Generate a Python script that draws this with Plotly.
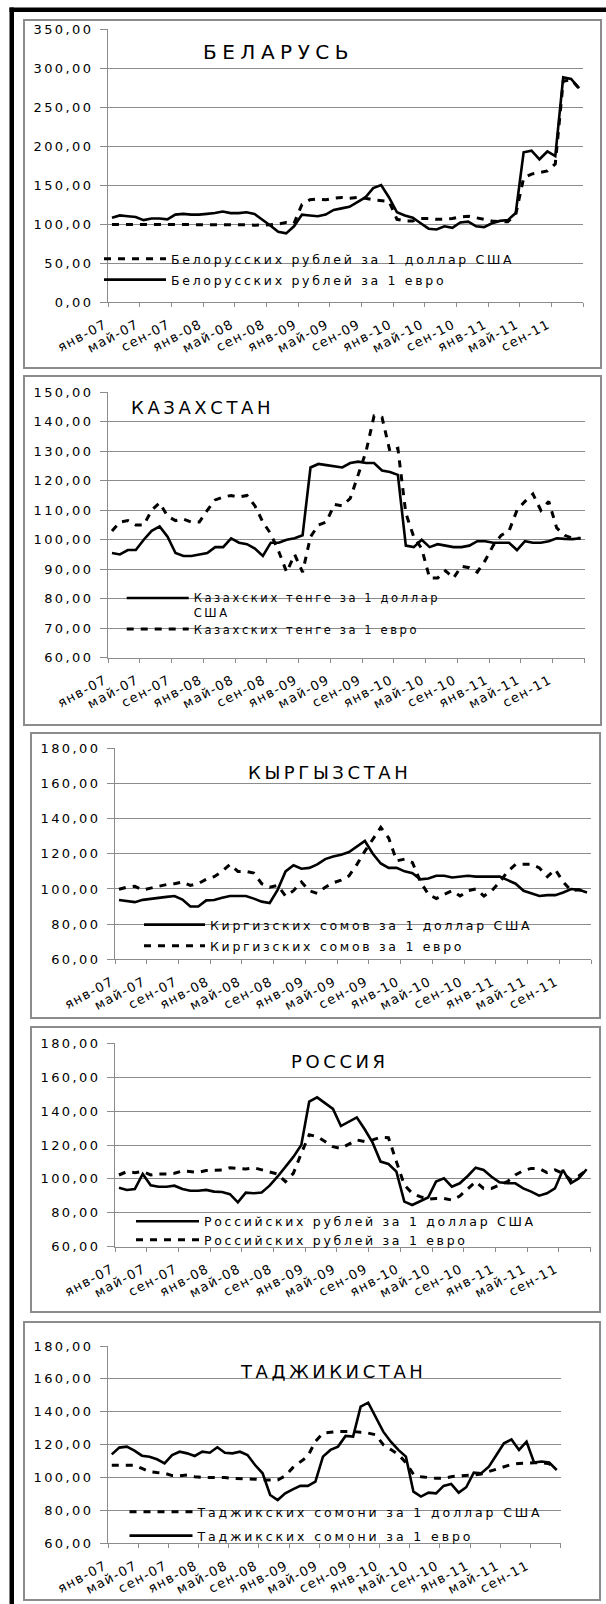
import plotly.graph_objects as go

W, H = 606, 1604

# ---------------- data ----------------
month_names = ["янв", "фев", "мар", "апр", "май", "июн", "июл", "авг", "сен", "окт", "ноя", "дек"]
years = ["07", "08", "09", "10", "11"]
categories = [f"{m}-{y}" for y in years for m in month_names]

belarus_usd = [99.5, 99.5, 99.5, 99.5, 99.5, 99.5, 99.5, 99.5, 99.5, 99.5, 99.5, 99.5,
               99.5, 99.5, 99.5, 99.5, 99, 99, 98.5, 98.5, 99, 100, 102, 101,
               125, 131, 132, 131, 133, 134, 133, 134, 133, 131, 130, 129,
               106, 104, 104, 107, 107, 106, 106, 107, 109, 110, 108, 106,
               104, 103, 103, 112, 159, 164, 166, 168, 177, 283, 285, 274]
belarus_eur = [108, 111, 110, 109, 105, 107, 107, 106, 112, 113, 112, 112,
               113, 114, 116, 114, 114, 115, 113, 106, 98, 90, 88, 97,
               112, 111, 110, 112, 118, 120, 122, 128, 134, 146, 150, 134,
               115, 111, 108, 101, 94, 93, 97, 95, 102, 103, 97, 96,
               101, 104, 105, 114, 192, 194, 183, 193, 187, 288, 286, 274]

kaz_usd = [95.5, 95, 96.5, 96.5, 100, 103, 104.5, 101, 95.5, 94.5, 94.5, 95,
           95.5, 97.5, 97.5, 100.5, 99, 98.5, 97, 94.5, 99, 99, 100, 100.5,
           101.5, 124.5, 125.7, 125.3, 125, 124.5, 126, 126.5, 126, 126, 123.5, 123,
           122, 98, 97.5, 100, 97.5, 98.5, 98, 97.5, 97.5, 98, 99.5, 99.5,
           99, 99, 99, 96.5, 99.5, 99, 99, 99.5, 100.5, 100.3, 100.2, 100.5]
kaz_eur = [103, 106, 106.5, 105, 105, 110, 112.5, 108, 106.5, 107, 106, 106,
           110, 113.5, 114.5, 115, 114.5, 115, 111.5, 106, 102, 96, 89, 95,
           89, 101, 105, 106, 112, 111.5, 114, 122, 130, 142, 141.5, 130,
           131, 109, 101, 97, 87, 87, 89.5, 87, 91, 90.5, 89, 93,
           98, 101.5, 103, 110, 113, 115.5, 110, 113, 104, 101.5, 100.5, 100.5]

kgz_usd = [93.7, 93, 92.5, 93.8, 94.5, 95, 95.5, 96, 94, 90, 90, 93.5,
           93.7, 95, 96, 96, 96, 94.5, 92.8, 92, 99.5, 110, 113.5, 111.5,
           112, 114, 117, 118.5, 119.5, 121, 124, 127.3, 120, 114.5, 112, 112,
           110, 109, 105.5, 106, 107.5, 107.5, 106.5, 107, 107.5, 107, 107, 107,
           107, 105, 103, 99, 97.5, 96, 96.5, 96.5, 98, 100, 99.5, 98]
kgz_eur = [99.8, 101, 101.5, 99.5, 100.5, 101.5, 102.5, 103, 104, 102, 103, 105.5,
           107, 110, 114, 110, 110, 109, 103, 101, 102, 96, 99, 104,
           99, 97.5, 101, 103.5, 105, 107.5, 114, 121.5, 128, 135, 129, 116,
           117, 115, 104, 97, 94.5, 97, 99, 96, 99, 100, 96, 99,
           104, 110, 114, 114, 114, 112, 107, 111, 104, 99, 99.5, 98.5]

rus_usd = [94.8, 93.5, 94, 102.9, 96.2, 95.4, 95.4, 96, 94, 93, 93, 93.5,
           92.5, 92.3, 91, 86.2, 91.9, 91.5, 92, 96, 101.3, 107, 113, 120,
           145.6, 148.1, 144.6, 141.3, 131.2, 133.8, 136.3, 129.3, 121.4, 110.2, 108.8, 104.3,
           86.6, 84.6, 86.6, 89, 98.4, 100.3, 95.4, 97.4, 101.7, 106.6, 105.3, 101.3,
           98, 97.4, 97.4, 94.4, 92.5, 90.1, 91.5, 94.4, 105.3, 97.4, 100.3, 105.7]
rus_eur = [102.3, 104.3, 103.7, 104.3, 102.3, 102.9, 102.9, 103.3, 104.7, 104.3, 103.9, 104.9,
           105, 105.3, 106.6, 106.2, 105.8, 106.6, 105.3, 104.3, 102.9, 98.4, 103.3, 115,
           126, 125, 122, 119, 118, 120.6, 123, 122, 123, 124.5, 124.3, 110.2,
           96.4, 91.5, 89.5, 88, 88.5, 88.5, 87.5, 89.9, 94.4, 98.4, 94.4, 94.4,
           96.4, 98.4, 102.3, 104.9, 106.2, 106.2, 103.7, 105.3, 103.3, 99.4, 101.7, 105.3]

tjk_usd = [107.5, 107.5, 107.5, 107.5, 105.5, 103.6, 103, 102.6, 101.2, 101, 101.5, 100.5,
           100, 100, 100, 100, 99.5, 99.5, 99.1, 99, 98.5, 98.5, 98.5, 101,
           106, 109.5, 113, 122, 127, 127.5, 128, 128, 128, 127.5, 127, 126,
           120, 117, 114, 109, 102, 100.5, 100, 99.5, 99.5, 100.5, 101, 101.2,
           101.6, 102.2, 103.6, 105, 106.6, 108, 108.6, 109, 109, 109, 108.3, 105.6]
tjk_eur = [114.1, 118.2, 118.8, 116.4, 113.3, 112.7, 111.1, 108.6, 113.7, 115.7, 114.7, 113.1,
           115.7, 115.1, 118.4, 115.1, 114.7, 115.7, 113.7, 107.6, 102.6, 89.4, 86.3, 90.4,
           92.8, 94.9, 94.9, 97.5, 112.7, 116.8, 118.8, 125.3, 124.9, 143.1, 145.5, 137,
           127.9, 121.8, 116.8, 112.7, 91.4, 88.4, 90.8, 90.4, 94.9, 96.1, 90.8, 94.1,
           103, 102.6, 106.6, 113.7, 120.8, 123.2, 116.8, 121.8, 109.1, 109.7, 109.1, 104.6]

for s in [belarus_usd, belarus_eur, kaz_usd, kaz_eur, kgz_usd, kgz_eur,
          rus_usd, rus_eur, tjk_usd, tjk_eur]:
    assert len(s) == len(categories), len(s)

y_ticks_by = [0, 50, 100, 150, 200, 250, 300, 350]
y_ticks_kz = [60, 70, 80, 90, 100, 110, 120, 130, 140, 150]
y_ticks_180 = [60, 80, 100, 120, 140, 160, 180]

# ---------------- styling helpers ----------------
FONT = "DejaVu Sans"
GRID = "#8c8c8c"
LEG_OFF = 14  # distance from legend top to first row centre (px)


def sp(text, s):
    return f"<span style='letter-spacing:{s}px'>{text}</span>"


def px_x(v):
    return v / W


def px_y(v):
    return 1 - v / H


SOLID = dict(color="black", width=2.6)
DASH = dict(color="black", width=3, dash="7px,7px")

x_idx = list(range(len(categories)))
x_tickvals = [i - 0.5 for i in range(0, len(categories) + 1, 4)]
x_ticktext = [sp(c, 1.4) for c in categories[0::4]] + [""]

panels = [
    dict(box=(24, 20, 601, 368), plot=(108, 29, 583, 302), yr=(0, 350), yt=y_ticks_by,
         title="БЕЛАРУСЬ", tpos=(278, 52), tsize=20, tsp=5.5,
         series=[("Белорусских рублей за 1 доллар США", belarus_usd, DASH, 258),
                 ("Белорусских рублей за 1 евро", belarus_eur, SOLID, 279)],
         legx=99, iw=62, lsp=2.7, lfs=12.5, cover=(108.5, 249, 526, 290)),
    dict(box=(24, 376, 601, 725), plot=(108, 392.3, 584.5, 657.7), yr=(60, 150), yt=y_ticks_kz,
         title="КАЗАХСТАН", tpos=(202, 407.5), tsize=18, tsp=3.6,
         series=[("Казахских тенге за 1 доллар<br>США", kaz_usd, SOLID, 598),
                 ("Казахских тенге за 1 евро", kaz_eur, DASH, 629)],
         legx=121.7, iw=62, lsp=2.6, lfs=11.5, cover=(108.5, 588, 468.5, 638)),
    dict(box=(31, 733, 600, 1018), plot=(115, 748.3, 591, 959.3), yr=(60, 180), yt=y_ticks_180,
         title="КЫРГЫЗСТАН", tpos=(329, 772), tsize=18, tsp=3.6,
         series=[("Киргизских сомов за 1 доллар США", kgz_usd, SOLID, 924),
                 ("Киргизских сомов за 1 евро", kgz_eur, DASH, 945)],
         legx=139, iw=61, lsp=2.7, lfs=12.5, cover=(115.5, 914, 576, 955)),
    dict(box=(31, 1027, 600, 1312), plot=(115, 1043.3, 590.6, 1246.7), yr=(60, 180), yt=y_ticks_180,
         title="РОССИЯ", tpos=(339.5, 1061), tsize=18, tsp=3.6,
         series=[("Российских рублей за 1 доллар США", rus_usd, SOLID, 1220.7),
                 ("Российских рублей за 1 евро", rus_eur, DASH, 1239)],
         legx=131, iw=63, lsp=2.7, lfs=12.5, cover=None),
    dict(box=(24, 1322, 600, 1600), plot=(108, 1346, 560.5, 1543.3), yr=(60, 180), yt=y_ticks_180,
         title="ТАДЖИКИСТАН", tpos=(333, 1371), tsize=18, tsp=3.6,
         series=[("Таджикских сомони за 1 доллар США", tjk_usd, DASH, 1511),
                 ("Таджикских сомони за 1 евро", tjk_eur, SOLID, 1535)],
         legx=124.5, iw=63, lsp=2.9, lfs=12.5, cover=(108.5, 1500, 560, 1543)),
]

fig = go.Figure()
layout = dict(
    width=W, height=H, margin=dict(l=0, r=0, t=0, b=0, autoexpand=False),
    paper_bgcolor="white", plot_bgcolor="white",
    font=dict(family=FONT, color="black"),
    separators=", ",
    annotations=[], shapes=[],
)

# outer black frame (left and top)
layout["shapes"].append(dict(type="rect", xref="paper", yref="paper",
                             x0=px_x(9.5), x1=px_x(14), y0=0, y1=px_y(7.5),
                             fillcolor="black", line=dict(width=0), layer="above"))
layout["shapes"].append(dict(type="rect", xref="paper", yref="paper",
                             x0=px_x(9.5), x1=1, y0=px_y(12), y1=px_y(7.5),
                             fillcolor="black", line=dict(width=0), layer="above"))

leg_n = 0
for i, p in enumerate(panels, start=1):
    sfx = "" if i == 1 else str(i)
    xa, ya = f"x{sfx}", f"y{sfx}"
    for name, vals, style, row_y in p["series"]:
        leg_n += 1
        lg = "legend" if leg_n == 1 else f"legend{leg_n}"
        fig.add_trace(go.Scatter(x=x_idx, y=vals, mode="lines", name=sp(name, p["lsp"]),
                                 line=style, xaxis=xa, yaxis=ya, legend=lg,
                                 hovertext=categories, hoverinfo="text+y"))
        layout[lg] = dict(x=px_x(p["legx"]), y=px_y(row_y - LEG_OFF),
                          xanchor="left", yanchor="top",
                          bgcolor="rgba(0,0,0,0)", borderwidth=0,
                          font=dict(size=p["lfs"], family=FONT),
                          itemwidth=p["iw"], valign="top",
                          itemclick=False, itemdoubleclick=False)
    L, T, R, B = p["plot"]
    layout[f"xaxis{sfx}"] = dict(
        domain=[px_x(L), px_x(R)], anchor=ya, range=[-0.5, len(categories) - 0.5],
        tickmode="array", tickvals=x_tickvals, ticktext=x_ticktext, tickangle=-28,
        ticks="outside", ticklen=4, tickcolor=GRID, showline=True, linecolor=GRID,
        linewidth=1, showgrid=False, zeroline=False, tickfont=dict(size=13, family=FONT),
        ticklabelstandoff=5, ticklabelshift=-3,
        automargin=False, fixedrange=True)
    layout[f"yaxis{sfx}"] = dict(
        domain=[px_y(B), px_y(T)], anchor=xa, range=list(p["yr"]),
        tickmode="array", tickvals=p["yt"],
        ticktext=[sp(f"{v:.2f}".replace(".", ","), 2.4) for v in p["yt"]],
        ticks="outside", ticklen=7, tickcolor=GRID, showline=True, linecolor=GRID,
        linewidth=1, showgrid=True, gridcolor=GRID, gridwidth=1, zeroline=False,
        tickfont=dict(size=13, family=FONT), ticklabelstandoff=4,
        automargin=False, fixedrange=True)
    if p["cover"]:
        c0, c1, c2, c3 = p["cover"]
        layout["shapes"].append(dict(type="rect", xref="paper", yref="paper",
                                     x0=px_x(c0), x1=px_x(c2), y0=px_y(c3), y1=px_y(c1),
                                     fillcolor="white", line=dict(width=0), layer="between"))
    bx0, by0, bx1, by1 = p["box"]
    layout["shapes"].append(dict(type="rect", xref="paper", yref="paper",
                                 x0=px_x(bx0), x1=px_x(bx1), y0=px_y(by1), y1=px_y(by0),
                                 line=dict(color=GRID, width=2), layer="below"))
    layout["annotations"].append(dict(
        xref="paper", yref="paper", x=px_x(p["tpos"][0]), y=px_y(p["tpos"][1]),
        xanchor="center", yanchor="middle", showarrow=False,
        text=sp(p["title"], p["tsp"]), font=dict(size=p["tsize"], family=FONT, color="black")))

fig.update_layout(**layout)
fig.update_layout(showlegend=True)

fig.write_html("out.html", config=dict(displayModeBar=False),
               post_script="document.body.style.margin='0';document.body.style.overflow='hidden';")
